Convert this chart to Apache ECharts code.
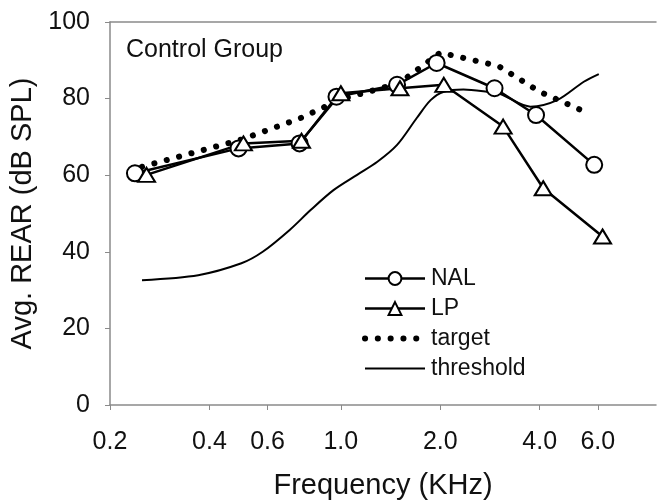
<!DOCTYPE html>
<html>
<head>
<meta charset="utf-8">
<script src="https://cdn.jsdelivr.net/npm/echarts@6/dist/echarts.min.js"></script>
<style>
html,body{margin:0;padding:0;background:#fff;}
#main{width:660px;height:502px;}
</style>
</head>
<body>
<div id="main"></div>
<script>
// frequency (kHz) / level (dB SPL) pairs
var nalData = [[0.238,60.5],[0.49,67.0],[0.75,68.3],[0.97,80.5],[1.48,83.6],[1.95,89.3],[2.92,82.7],[3.9,75.7],[5.85,62.7]];
var lpData = [[0.258,60.1],[0.507,68.3],[0.76,69.0],[1.0,81.4],[1.51,82.7],[2.05,83.6],[3.1,72.7],[4.1,56.6],[6.2,44.0]];
var targetData = [[0.25,62.2],[0.5,69.3],[0.75,74.8],[1.0,79.8],[1.5,84.0],[2.0,92.0],[3.0,88.5],[4.0,81.8],[5.6,76.2]];
var thresholdData = [[0.25,32.6],[0.37,33.9],[0.5,37.0],[0.58,40.0],[0.7,45.7],[0.81,50.9],[0.95,56.1],[1.12,60.1],[1.29,63.5],[1.48,67.9],[1.7,75.0],[1.87,79.6],[2.05,81.8],[2.35,82.4],[2.77,81.8],[3.04,81.2],[3.75,77.9],[4.52,79.6],[5.44,84.4],[6.04,86.4]];
var xTicks = [0.2,0.4,0.6,1,2,4,6];
var legendNames = ['NAL','LP','target','threshold'];

var FONT = '"Liberation Sans", Arial, sans-serif';
var axisGray = '#8a8a8a';

var myChart = echarts.init(document.getElementById('main'));
var option = {
    backgroundColor: '#fff',
    animation: false,
    grid: {left: 110, right: 4, top: 22, bottom: 97, outerBoundsMode: 'none'},
    graphic: [{
        type: 'text',
        left: 126,
        top: 38,
        style: {text: 'Control Group', font: '25px ' + FONT, fill: '#111'}
    }],
    legend: {
        orient: 'vertical',
        left: 357,
        top: 262,
        itemWidth: 60,
        itemHeight: 16,
        itemGap: 7,
        lineStyle: {width: 2.5},
        data: [
            {name: legendNames[0]},
            {name: legendNames[1]},
            {name: legendNames[2], lineStyle: {width: 6}, itemStyle: {opacity: 0}},
            {name: legendNames[3], lineStyle: {width: 2}, itemStyle: {opacity: 0}}
        ],
        textStyle: {fontFamily: FONT, fontSize: 23, color: '#111', padding: [0, 0, 0, 1]}
    },
    xAxis: [
        {
            type: 'log',
            logBase: 10,
            min: 0.2,
            max: 9,
            name: 'Frequency (KHz)',
            nameLocation: 'middle',
            nameGap: 66,
            nameTextStyle: {fontFamily: FONT, fontSize: 29, color: '#111'},
            axisLine: {lineStyle: {color: axisGray, width: 1.5}},
            axisTick: {show: true, length: 5, customValues: xTicks, lineStyle: {color: axisGray}},
            axisLabel: {
                customValues: xTicks,
                margin: 25,
                fontFamily: FONT,
                fontSize: 25,
                color: '#111',
                formatter: function (v) { return (+v).toFixed(1); }
            },
            splitLine: {show: false},
            minorTick: {show: false}
        },
        {
            type: 'value',
            position: 'top',
            min: 0,
            max: 1,
            axisLine: {show: true, lineStyle: {color: axisGray, width: 1.5}},
            axisTick: {show: false},
            axisLabel: {show: false},
            splitLine: {show: false}
        }
    ],
    yAxis: {
        type: 'value',
        min: 0,
        max: 100,
        interval: 20,
        name: 'Avg. REAR (dB SPL)',
        nameLocation: 'middle',
        nameGap: 56,
        nameTextStyle: {fontFamily: FONT, fontSize: 29, color: '#111'},
        axisLine: {show: true, lineStyle: {color: axisGray, width: 1.5}},
        axisTick: {show: true, length: 5, lineStyle: {color: axisGray}},
        axisLabel: {margin: 20, fontFamily: FONT, fontSize: 25, color: '#111'},
        splitLine: {show: false}
    },
    series: [
        {
            name: 'threshold',
            type: 'line',
            data: thresholdData,
            smooth: 0.3,
            symbol: 'none',
            color: '#000',
            lineStyle: {color: '#000', width: 2}
        },
        {
            name: 'target',
            type: 'line',
            data: targetData,
            symbol: 'none',
            color: '#000',
            lineStyle: {color: '#000', width: 6, type: [0.1, 12.7], cap: 'round'}
        },
        {
            name: 'NAL',
            type: 'line',
            data: nalData,
            symbol: 'circle',
            symbolSize: 16,
            lineStyle: {color: '#000', width: 2.5},
            itemStyle: {color: '#fff', borderColor: '#000', borderWidth: 2}
        },
        {
            name: 'LP',
            type: 'line',
            data: lpData,
            symbol: 'triangle',
            symbolSize: [17, 14],
            lineStyle: {color: '#000', width: 2.5},
            itemStyle: {color: '#fff', borderColor: '#000', borderWidth: 2}
        }
    ]
};
myChart.setOption(option);
</script>
</body>
</html>
